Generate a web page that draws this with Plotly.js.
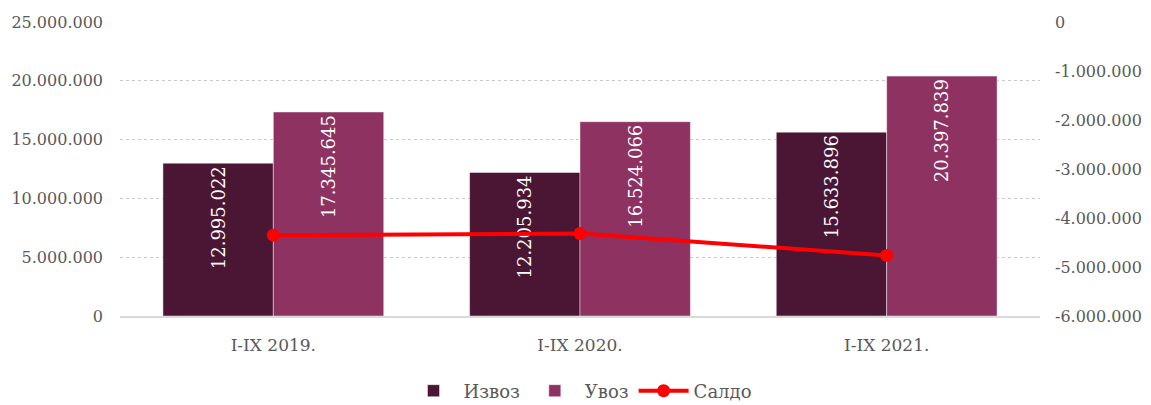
<!DOCTYPE html>
<html><head><meta charset="utf-8">
<script src="https://cdn.plot.ly/plotly-3.0.1.min.js"></script>
<style>body{margin:0;background:#fff}#c{width:1151px;height:405px}</style>
</head><body><div id="c"></div>
<script>
var categories = ['I-IX 2019.', 'I-IX 2020.', 'I-IX 2021.'];
var izvoz = [12995022, 12205934, 15633896];
var uvoz = [17345645, 16524066, 20397839];
var saldo = [-4350623, -4318132, -4763943];
var leftTicks = [0, 5000000, 10000000, 15000000, 20000000, 25000000];
var rightTicks = [-6000000, -5000000, -4000000, -3000000, -2000000, -1000000, 0];

function fmt(v){ var s=Math.abs(v).toString().replace(/\B(?=(\d{3})+(?!\d))/g,'.'); return (v<0?'-':'')+s; }

var font = 'DejaVu Serif, Liberation Serif, serif';
var traces = [
  {type:'bar', name:'Извоз', x:categories, y:izvoz, marker:{color:'#4B1634', line:{color:'rgba(255,255,255,0.45)', width:1}},
   text:izvoz.map(fmt), textposition:'inside', textangle:-90, insidetextanchor:'end', textfont:{color:'#fff', size:18, family:font}, hoverinfo:'skip'},
  {type:'bar', name:'Увоз', x:categories, y:uvoz, marker:{color:'#8E3262', line:{color:'rgba(255,255,255,0.45)', width:1}},
   text:uvoz.map(fmt), textposition:'inside', textangle:-90, insidetextanchor:'end', textfont:{color:'#fff', size:18, family:font}, hoverinfo:'skip'},
  {type:'scatter', mode:'lines+markers', name:'Салдо', x:categories, y:saldo, yaxis:'y2',
   line:{color:'#FF0000', width:4}, marker:{color:'#FF0000', size:13}, hoverinfo:'skip'}
];
var layout = {
  width:1151, height:405, margin:{l:120, r:111, t:22, b:89, autoexpand:false},
  paper_bgcolor:'#fff', plot_bgcolor:'#fff',
  font:{family:font, size:16, color:'#595959'},
  separators:',.',
  barmode:'group', bargap:0.28, bargroupgap:0,
  showlegend:true,
  legend:{orientation:'h', x:0.5, xanchor:'center', y:-0.255, yanchor:'middle', font:{size:18, color:'#595959'}, traceorder:'normal', itemwidth:50, bgcolor:'rgba(0,0,0,0)'},
  xaxis:{showgrid:false, showline:true, linecolor:'#D9D9D9', linewidth:2, ticks:'', tickfont:{size:17}, zeroline:false, ticklabelstandoff:13},
  yaxis:{range:[0,25000000], tickvals:leftTicks, ticktext:leftTicks.map(fmt), showgrid:true, gridcolor:'#C8C8C8', griddash:'dot', gridwidth:1, zeroline:false, showline:false, ticks:'', ticklabelstandoff:16},
  yaxis2:{range:[-6000000,0], tickvals:rightTicks, ticktext:rightTicks.map(fmt), overlaying:'y', side:'right', showgrid:false, zeroline:false, showline:false, ticks:'', ticklabelstandoff:14}
};
Plotly.newPlot('c', traces, layout, {displayModeBar:false, staticPlot:true});
</script></body></html>
